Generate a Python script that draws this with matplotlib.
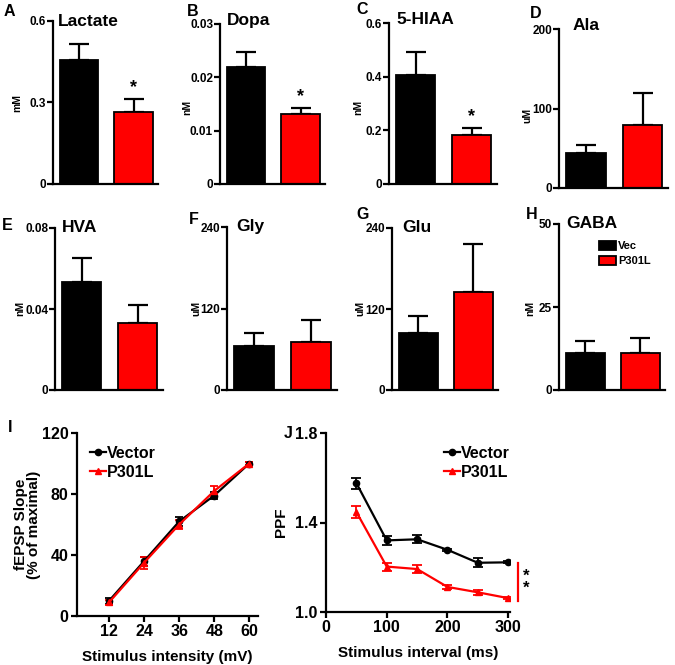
import matplotlib
matplotlib.use("Agg")
import matplotlib.pyplot as plt
from matplotlib.lines import Line2D
import numpy as np

plt.rcParams['font.family'] = ['Liberation Sans', 'DejaVu Sans']
plt.rcParams['font.weight'] = 'bold'

# ---------------- data ----------------
groups = ["Vec", "P301L"]
bar_colors = ["#000000", "#ff0000"]

lactate_mean = [0.456, 0.266]
lactate_err = [0.061, 0.048]
dopa_mean = [0.0220, 0.0132]
dopa_err = [0.0028, 0.0011]
hiaa_mean = [0.407, 0.184]
hiaa_err = [0.084, 0.026]
ala_mean = [44, 79]
ala_err = [9.5, 41]
hva_mean = [0.0531, 0.0329]
hva_err = [0.0121, 0.0091]
gly_mean = [65.4, 70.3]
gly_err = [18.2, 33.5]
glu_mean = [84, 144.5]
glu_err = [26, 72]
gaba_mean = [11.0, 11.0]
gaba_err = [3.8, 4.6]

intensity = [12, 24, 36, 48, 60]
fepsp_vec = [10, 36, 62, 79, 100]
fepsp_vec_err = [2, 3, 3, 2, 1]
fepsp_p301 = [9, 35, 60, 82, 100]
fepsp_p301_err = [1.5, 4, 3, 3, 1]

interval = [50, 100, 150, 200, 250, 300]
ppf_vec = [1.576, 1.320, 1.325, 1.278, 1.220, 1.222]
ppf_vec_err = [0.025, 0.020, 0.017, 0.005, 0.020, 0.005]
ppf_p301 = [1.447, 1.203, 1.192, 1.112, 1.088, 1.062]
ppf_p301_err = [0.025, 0.018, 0.017, 0.007, 0.012, 0.005]

W, H = 675, 665
fig = plt.figure(figsize=(W / 100, H / 100), dpi=100)


def box(l, r, t, b):
    return [l / W, 1 - b / H, (r - l) / W, (b - t) / H]


def ftext(x, y, s, **kw):
    fig.text(x / W, 1 - y / H, s, **kw)


bar_panels = [
    ("A", "Lactate", "mM", lactate_mean, lactate_err, 0.6, [0, 0.3, 0.6], ["0", "0.3", "0.6"],
     (53, 158, 21, 184), (4, 12), (58, 21), (17, 103), True),
    ("B", "Dopa", "nM", dopa_mean, dopa_err, 0.03, [0, 0.01, 0.02, 0.03], ["0", "0.01", "0.02", "0.03"],
     (220, 325, 24, 184), (187, 12), (227, 21), (187, 107), True),
    ("C", "5-HIAA", "nM", hiaa_mean, hiaa_err, 0.6, [0, 0.2, 0.4, 0.6], ["0", "0.2", "0.4", "0.6"],
     (389, 497, 23, 184), (356, 10), (396, 20), (358, 107), True),
    ("D", "Ala", "uM", ala_mean, ala_err, 200, [0, 100, 200], ["0", "100", "200"],
     (559, 668, 29, 188), (530, 13), (573, 25), (527, 115), False),
    ("E", "HVA", "nM", hva_mean, hva_err, 0.08, [0, 0.04, 0.08], ["0", "0.04", "0.08"],
     (55, 163, 228, 390), (2, 225), (62, 227), (20, 308), False),
    ("F", "Gly", "uM", gly_mean, gly_err, 240, [0, 120, 240], ["0", "120", "240"],
     (227, 337, 227, 390), (189, 220), (236, 227), (196, 308), False),
    ("G", "Glu", "uM", glu_mean, glu_err, 240, [0, 120, 240], ["0", "120", "240"],
     (392, 498, 228, 390), (356, 215), (402, 227), (360, 308), False),
    ("H", "GABA", "nM", gaba_mean, gaba_err, 50, [0, 25, 50], ["0", "25", "50"],
     (559, 665, 224, 390), (526, 215), (566, 223), (530, 308), False),
]

xpos = np.arange(len(groups))
for (letter, title, unit, mean, err, ymax, ticks, tlabels, bx, lp, tp, yp, star) in bar_panels:
    ax = fig.add_axes(box(*bx))
    for i in range(len(groups)):
        ax.bar(xpos[i], mean[i], width=0.7, color=bar_colors[i], edgecolor="black",
               linewidth=1.3, label=groups[i], zorder=2)
        ax.errorbar(xpos[i], mean[i], yerr=[[0], [err[i]]], fmt="none", ecolor="black",
                    elinewidth=1.6, capsize=7, capthick=1.6, zorder=1)
    ax.set_xlim(-0.48, 1.45)
    ax.set_ylim(0, ymax)
    ax.set_yticks(ticks)
    ax.set_yticklabels(tlabels)
    ax.set_xticks([])
    for s in ["top", "right"]:
        ax.spines[s].set_visible(False)
    for s in ["left", "bottom"]:
        ax.spines[s].set_linewidth(1.6)
    ax.tick_params(axis="y", direction="out", length=4, width=1.6, labelsize=8.5, pad=1)
    for lab in ax.get_yticklabels():
        lab.set_fontweight("bold")
    if star:
        ax.text(xpos[1], mean[1] + err[1] + ymax * 0.015, "*", ha="center", va="bottom",
                fontsize=13, fontweight="bold")
    ftext(lp[0], lp[1], letter, fontsize=11.5, fontweight="bold", va="center", ha="left")
    ftext(tp[0], tp[1], title, fontsize=12.5, fontweight="bold", va="center", ha="left")
    ftext(yp[0], yp[1], unit, fontsize=7.5, fontweight="bold", va="center", ha="center", rotation=90)
    if letter == "H":
        ax.legend(loc="upper left", bbox_to_anchor=(0.38, 0.90), frameon=False,
                  handlelength=1.5, handleheight=0.9, handletextpad=0.2, labelspacing=0.45,
                  borderpad=0, borderaxespad=0, prop={"size": 8, "weight": "bold"})


def line_handles():
    return [Line2D([], [], color="black", marker="o", markersize=4.5, linewidth=1.6),
            Line2D([], [], color="#ff0000", marker="^", markersize=4.5, linewidth=1.6)]


# ---------------- panel I ----------------
axI = fig.add_axes(box(77, 258, 433, 616))
axI.errorbar(intensity, fepsp_vec, yerr=fepsp_vec_err, color="black", marker="o", markersize=4.5,
             linewidth=1.6, capsize=3, capthick=1.3, elinewidth=1.3)
axI.errorbar(intensity, fepsp_p301, yerr=fepsp_p301_err, color="#ff0000", marker="^", markersize=4.5,
             linewidth=1.6, capsize=3, capthick=1.3, elinewidth=1.3)
axI.set_xlim(1, 63)
axI.set_ylim(0, 120)
axI.set_xticks(intensity)
axI.set_yticks([0, 40, 80, 120])
axI.set_xlabel("Stimulus intensity (mV)", fontsize=11, fontweight="bold", labelpad=8)
axI.set_ylabel("fEPSP Slope\n(% of maximal)", fontsize=11, fontweight="bold", labelpad=1,
               linespacing=0.85)
axI.legend(line_handles(), ["Vector", "P301L"], loc="upper left", bbox_to_anchor=(0.07, 0.93),
           frameon=False, handlelength=1.0, handletextpad=0.1, labelspacing=0.25, borderpad=0,
           borderaxespad=0, prop={"size": 11.5, "weight": "bold"})
ftext(8, 428, "I", fontsize=11.5, fontweight="bold", va="center", ha="left")

# ---------------- panel J ----------------
axJ = fig.add_axes(box(326, 510, 433, 612))
axJ.errorbar(interval, ppf_vec, yerr=ppf_vec_err, color="black", marker="o", markersize=4.5,
             linewidth=1.6, capsize=3.5, capthick=1.3, elinewidth=1.3)
axJ.errorbar(interval, ppf_p301, yerr=ppf_p301_err, color="#ff0000", marker="^", markersize=4.5,
             linewidth=1.6, capsize=3.5, capthick=1.3, elinewidth=1.3)
axJ.set_xlim(0, 303)
axJ.set_ylim(1.0, 1.8)
axJ.set_xticks([0, 100, 200, 300])
axJ.set_yticks([1.0, 1.4, 1.8])
axJ.set_yticklabels(["1.0", "1.4", "1.8"])
axJ.set_xlabel("Stimulus interval (ms)", fontsize=11, fontweight="bold", labelpad=8)
axJ.set_ylabel("PPF", fontsize=11, fontweight="bold", labelpad=5)
axJ.legend(line_handles(), ["Vector", "P301L"], loc="upper left", bbox_to_anchor=(0.64, 0.93),
           frameon=False, handlelength=1.0, handletextpad=0.1, labelspacing=0.25, borderpad=0,
           borderaxespad=0, prop={"size": 11.5, "weight": "bold"})
axJ.plot([316, 316], [1.049, 1.219], color="#ff0000", linewidth=1.6, clip_on=False)
axJ.text(330, 1.134, "*\n*", ha="center", va="center", fontsize=12, fontweight="bold",
         linespacing=0.75)
ftext(284, 433, "J", fontsize=11.5, fontweight="bold", va="center", ha="left")

for ax in (axI, axJ):
    for s in ["top", "right"]:
        ax.spines[s].set_visible(False)
    for s in ["left", "bottom"]:
        ax.spines[s].set_linewidth(1.6)
    ax.tick_params(direction="out", length=4, width=1.6, labelsize=11.5, pad=2)
    for lab in ax.get_xticklabels() + ax.get_yticklabels():
        lab.set_fontweight("bold")

fig.savefig("out.png", dpi=100)
